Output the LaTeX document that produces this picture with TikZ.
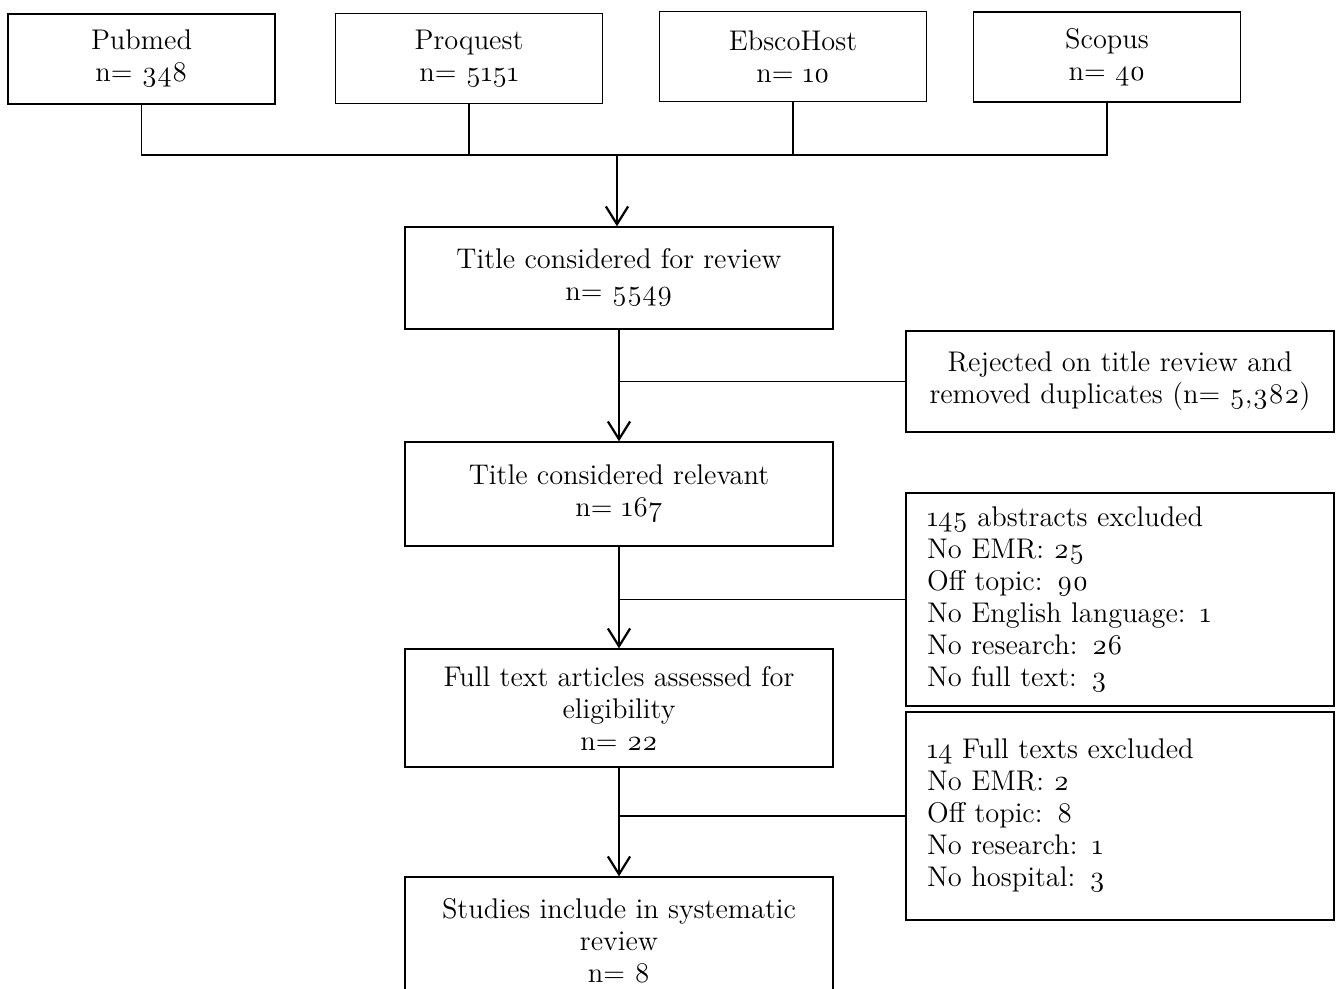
\documentclass[tikz,border=0pt]{standalone}
\usepackage{fontspec}
\setmainfont{Latin Modern Roman}[Numbers=OldStyle]
\usetikzlibrary{positioning,arrows.meta}
\tikzset{
  dbbox/.style={
    draw,
    rectangle,
    minimum width=120pt,
    minimum height=40.5pt,
    align=center,
    line width=0.6pt,
  },
  mainbox/.style={
    draw,
    rectangle,
    minimum width=192.6pt,
    align=center,
    line width=0.6pt,
  },
  sidebox/.style={
    draw,
    rectangle,
    text width=173.6pt,
    inner xsep=9.5pt,
    inner ysep=3pt,
    align=left,
    line width=0.6pt,
  },
  link/.style={line width=0.6pt},
  flow/.style={line width=1pt, -{Straight Barb[length=8pt,width=10pt]}},
}
\begin{document}
\begin{tikzpicture}[x=0.45pt, y=-0.45pt, font=\fontsize{12.8}{14.4}\selectfont]
  \useasboundingbox (0,0) rectangle (1336,989);
  % databases
  \node[dbbox] (pub)   at (141.5,59) {Pubmed\\n= 348};
  \node[dbbox] (proq)  at (469,58.5) {Proquest\\n= 5151};
  \node[dbbox] (ebsco) at (793,56.5) {EbscoHost\\n= 10};
  \node[dbbox] (scop)  at (1107,57)  {Scopus\\n= 40};
  \coordinate (join) at (617,155);
  \draw[link] (pub.south) -- (pub.south |- join) -- (scop.south |- join) -- (scop.south);
  \draw[link] (proq.south) -- (proq.south |- join);
  \draw[link] (ebsco.south) -- (ebsco.south |- join);

  % main flow
  \node[mainbox, minimum height=45.9pt] (title) at (619,278) {Title considered for review\\n= 5549};
  \node[mainbox, minimum height=46.8pt] (rel)   at (619,494) {Title considered relevant\\n= 167};
  \node[mainbox, minimum height=53.1pt] (full)  at (619,708) {Full text articles assessed for\\eligibility\\n= 22};
  \node[mainbox, minimum height=57.6pt] (stud)  at (619,941) {Studies include in systematic\\review\\n= 8};
  \draw[flow] (join) -- (join |- title.north);
  \draw[flow] (title) -- (rel);
  \draw[flow] (rel) -- (full);
  \draw[flow] (full) -- (stud);

  % exclusions
  \node[sidebox, align=center, minimum height=45.5pt] (rej) at (1120,381.5)
    {Rejected on title review and\\removed duplicates (n= 5,382)};
  \node[sidebox, minimum height=95.9pt] (absx) at (1120,599.5)
    {145 abstracts excluded\\No EMR: 25\\Off topic: 90\\No English language: 1\\No research: 26\\No full text: 3};
  \node[sidebox, minimum height=93.6pt] (ftx) at (1120,816)
    {14 Full texts excluded\\No EMR: 2\\Off topic: 8\\No research: 1\\No hospital: 3};
  \draw[link] (rej.west)  -- (rej.west -| title.south);
  \draw[link] (absx.west) -- (absx.west -| rel.south);
  \draw[link] (ftx.west)  -- (ftx.west -| full.south);
\end{tikzpicture}
\end{document}
